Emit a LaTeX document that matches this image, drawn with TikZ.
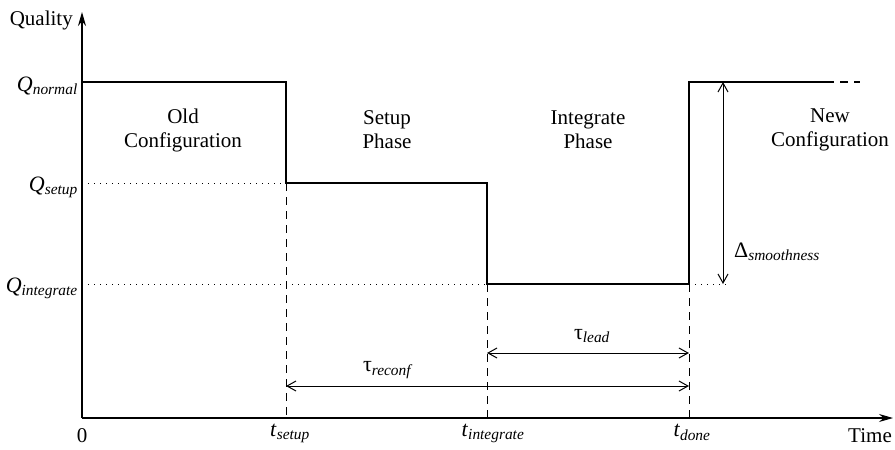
\documentclass[tikz,border=0pt]{standalone}
\usepackage{fontspec}
\setmainfont{Liberation Serif}
\usetikzlibrary{arrows.meta}
\newcommand\qsub[1]{\textsubscript{\textit{#1}}}
\begin{document}
\begin{tikzpicture}[x=1pt,y=-1pt,
  lbl/.style={font=\fontsize{21}{24}\selectfont, inner sep=0pt, align=center},
  mlbl/.style={font=\fontsize{22}{24}\selectfont, inner sep=0pt},
  qual/.style={line width=2pt, line join=miter},
  guide/.style={line width=0.9pt, dash pattern=on 1.2pt off 4.8pt},
  drop/.style={line width=0.9pt, dash pattern=on 8pt off 6pt},
  axis/.style={line width=1.2pt, -{Stealth[length=14pt,width=8pt]}},
  span/.style={line width=1pt, {Straight Barb[length=9pt,width=10pt]}-{Straight Barb[length=9pt,width=10pt]}}]
\useasboundingbox (0,0) rectangle (895,450);
% key coordinates
\coordinate (O) at (82,418);
\coordinate (ytop) at (82,12);
\coordinate (xend) at (893,418);
\coordinate (n0) at (82,82);
\coordinate (n1) at (286,82);
\coordinate (s1) at (286,183);
\coordinate (s2) at (487,183);
\coordinate (i1) at (487,284);
\coordinate (i2) at (689,284);
\coordinate (d1) at (689,82);
\coordinate (d2) at (826,82);
\coordinate (d3) at (860,82);
\coordinate (qs) at (82,183);
\coordinate (qi) at (82,284);
\coordinate (ie) at (727,284);
\coordinate (ts) at (286,418);
\coordinate (ti) at (487,418);
\coordinate (td) at (689,418);
\coordinate (la) at (487,353);
\coordinate (lb) at (689,353);
\coordinate (ra) at (286,386);
\coordinate (rb) at (689,386);
\coordinate (da) at (723,82);
\coordinate (db) at (723,284);
% axes
\draw[axis] (O) -- (ytop);
\draw[axis] (O) -- (xend);
% guides
\draw[guide] (qs) -- (s1);
\draw[guide] (qi) -- (i1);
\draw[guide] (i2) -- (ie);
\draw[drop] (s1) -- (ts);
\draw[drop] (i1) -- (ti);
\draw[drop] (i2) -- (td);
% quality curve
\draw[qual] (n0) -- (n1) -- (s1) -- (s2) -- (i1) -- (i2) -- (d1) -- (d2);
\draw[qual, dash pattern=on 8pt off 6pt] (d2) -- (d3);
% spans
\draw[span] (la) -- (lb);
\draw[span] (ra) -- (rb);
\draw[span] (da) -- (db);
% labels
\node[lbl, anchor=east] (quality) at (73,20) {Quality};
\node[lbl, anchor=north east] (time) at (892,428) {Time};
\node[lbl, anchor=north] (zero) at (82,428) {0};
\node[mlbl, anchor=east] (qn) at (78,86) {\textit{Q}\qsub{normal}};
\node[mlbl, anchor=east] (qsl) at (78,187) {\textit{Q}\qsub{setup}};
\node[mlbl, anchor=east] (qil) at (78,288) {\textit{Q}\qsub{integrate}};
\node[mlbl, anchor=north] (tsl) at (290,424) {\textit{t}\qsub{setup}};
\node[mlbl, anchor=north] (til) at (493,424) {\textit{t}\qsub{integrate}};
\node[mlbl, anchor=north] (tdl) at (692,424) {\textit{t}\qsub{done}};
\node[lbl] (old) at (183,130) {Old\\Configuration};
\node[lbl] (setup) at (387,130) {Setup\\Phase};
\node[lbl] (integ) at (588,130) {Integrate\\Phase};
\node[lbl] (new) at (830,130) {New\\Configuration};
\node[mlbl] (tlead) at (592,336) {τ\qsub{lead}};
\node[mlbl] (treconf) at (388,370) {τ\qsub{reconf}};
\node[mlbl, anchor=west] (delta) at (734,252) {Δ\qsub{smoothness}};
\end{tikzpicture}
\end{document}
